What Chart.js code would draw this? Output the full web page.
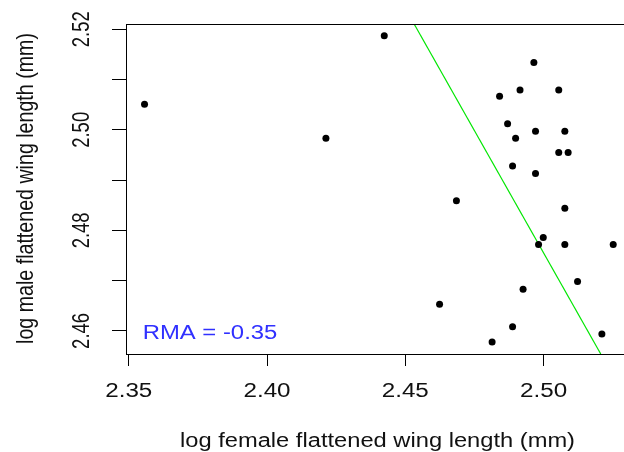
<!DOCTYPE html>
<html>
<head>
<meta charset="utf-8">
<script src="https://cdn.jsdelivr.net/npm/chart.js@4.4.0/dist/chart.umd.min.js"></script>
<style>
  body { margin: 0; background: #fff; }
  #wrap { width: 624px; height: 452px; }
</style>
</head>
<body>
<div id="wrap"><canvas id="myChart" width="624" height="452"></canvas></div>
<script>
// log female / male flattened wing length
const femaleLog = [2.3557, 2.4213, 2.4424, 2.4685, 2.4965, 2.4915, 2.5055, 2.4841,
  2.4870, 2.4971, 2.5077, 2.4899, 2.5055, 2.5089, 2.4888, 2.4971,
  2.5077, 2.4999, 2.4982, 2.5077, 2.5252, 2.5123, 2.4926, 2.4624,
  2.4888, 2.5211, 2.4814];
const maleLog = [2.5051, 2.4983, 2.5187, 2.4859, 2.5134, 2.5079, 2.5079, 2.5067,
  2.5012, 2.4997, 2.4997, 2.4983, 2.4955, 2.4955, 2.4928, 2.4913,
  2.4844, 2.4786, 2.4772, 2.4772, 2.4772, 2.4698, 2.4683, 2.4653,
  2.4608, 2.4594, 2.4578];

// RMA line, where it meets the frame
const rmaX = [2.4532, 2.5207];
const rmaY = [2.52105, 2.4554];
const rmaLabel = 'RMA = -0.35';

const xTicks = [2.35, 2.40, 2.45, 2.50];
const yTicks = [2.46, 2.47, 2.48, 2.49, 2.50, 2.51, 2.52];
const yLabels = [2.46, 2.48, 2.50, 2.52];

const xTitle = 'log female flattened wing length (mm)';
const yTitle = 'log male flattened wing length (mm)';

const FONT = '"Liberation Sans", Arial, sans-serif';

// text in the picture is a bit wider than tall, so stretch it sideways
function drawText(ctx, text, x, y, size, sx, rotate, align, color) {
  ctx.save();
  ctx.translate(x, y);
  ctx.scale(sx, 1);
  if (rotate) ctx.rotate(-Math.PI / 2);
  ctx.font = size + 'px ' + FONT;
  ctx.fillStyle = color || '#111';
  ctx.textAlign = align || 'center';
  ctx.textBaseline = 'alphabetic';
  ctx.fillText(text, 0, 0);
  ctx.restore();
}

const labelsPlugin = {
  id: 'rLabels',
  afterDraw(chart) {
    const ctx = chart.ctx;
    const area = chart.chartArea;
    const xs = chart.scales.x, ys = chart.scales.y;

    // top line of the frame
    ctx.save();
    ctx.strokeStyle = '#000';
    ctx.lineWidth = 1;
    ctx.beginPath();
    ctx.moveTo(area.left, Math.round(area.top) + 0.5);
    ctx.lineTo(area.right, Math.round(area.top) + 0.5);
    ctx.stroke();
    ctx.restore();

    xTicks.forEach(v => {
      drawText(ctx, v.toFixed(2), xs.getPixelForValue(v), 397, 20, 1.21, false);
    });
    yLabels.forEach(v => {
      drawText(ctx, v.toFixed(2), 88.5, ys.getPixelForValue(v), 18.5, 1.25, true);
    });

    // axis titles
    ctx.font = '20px ' + FONT;
    const wx = ctx.measureText(xTitle).width;
    drawText(ctx, xTitle, 377.5, 446.5, 20, 395 / wx, false);

    ctx.font = '18px ' + FONT;
    const wy = ctx.measureText(yTitle).width;
    drawText(ctx, yTitle, 32.5, 188.5, 18 * 311 / wy, 1.25, true);

    // RMA label
    ctx.font = '20px ' + FONT;
    const wr = ctx.measureText(rmaLabel).width;
    drawText(ctx, rmaLabel, 142.7, 339.3, 20, 134.6 / wr, false, 'left', '#3030ff');
  }
};

const points = femaleLog.map((v, i) => ({ x: v, y: maleLog[i] }));
const rmaLine = rmaX.map((v, i) => ({ x: v, y: rmaY[i] }));

const ctx = document.getElementById('myChart');
const chart = new Chart(ctx, {
  type: 'scatter',
  data: {
    datasets: [{
      data: points,
      backgroundColor: '#000',
      borderWidth: 0,
      pointRadius: 3.5,
      pointHoverRadius: 3.5
    }, {
      type: 'line',
      data: rmaLine,
      borderColor: '#00e600',
      borderWidth: 1.2,
      pointRadius: 0,
      fill: false
    }]
  },
  options: {
    responsive: false,
    animation: false,
    layout: { autoPadding: false, padding: { top: 24, left: 0, right: 0, bottom: 0 } },
    plugins: {
      legend: { display: false },
      tooltip: { enabled: false }
    },
    scales: {
      x: {
        type: 'linear',
        min: 2.349,
        max: 2.5291,
        afterBuildTicks: s => { s.ticks = xTicks.map(v => ({ value: v })); },
        afterFit: s => { s.height = 98; },
        ticks: { display: false },
        grid: { drawOnChartArea: false, drawTicks: true, tickLength: 12, color: '#000', lineWidth: 1 },
        border: { display: true, color: '#000', width: 1 }
      },
      y: {
        type: 'linear',
        min: 2.4554,
        max: 2.52105,
        afterBuildTicks: s => { s.ticks = yTicks.map(v => ({ value: v })); },
        afterFit: s => { s.width = 126; },
        ticks: { display: false },
        grid: { drawOnChartArea: false, drawTicks: true, tickLength: 14, color: '#000', lineWidth: 1 },
        border: { display: true, color: '#000', width: 1 }
      }
    }
  },
  plugins: [labelsPlugin]
});
</script>
</body>
</html>
